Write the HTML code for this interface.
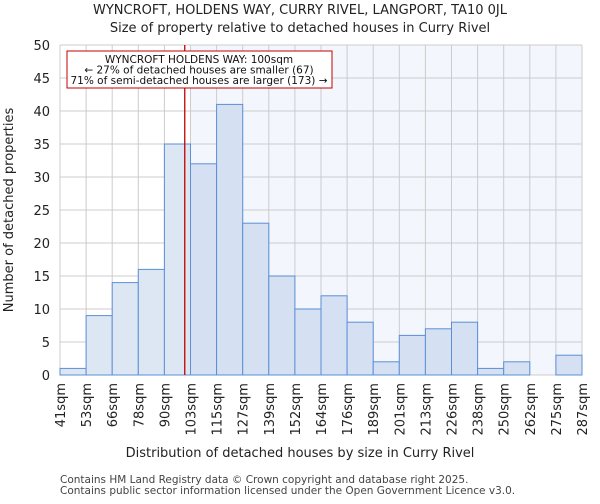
<!DOCTYPE html>
<html><head><meta charset="utf-8"><style>
body{margin:0;background:#fff;font-family:"DejaVu Sans","Liberation Sans",sans-serif}
</style></head><body>
<svg id="c" width="600" height="500" xmlns="http://www.w3.org/2000/svg" font-family="DejaVu Sans, Liberation Sans, sans-serif"></svg>
<script>
const edges=["41sqm","53sqm","66sqm","78sqm","90sqm","103sqm","115sqm","127sqm","139sqm","152sqm","164sqm","176sqm","189sqm","201sqm","213sqm","226sqm","238sqm","250sqm","262sqm","275sqm","287sqm"];
const counts=[1,9,14,16,35,32,41,23,15,10,12,8,2,6,7,8,1,2,0,3];
const yTicks=[0,5,10,15,20,25,30,35,40,45,50];
const markerPos=4.78; // bin index position of 100sqm
const svg=document.getElementById('c');const NS='http://www.w3.org/2000/svg';
const L=60,R=582,T=45,B=375,yMax=50;
const n=counts.length,bw=(R-L)/n;
const xs=i=>L+i*bw, ys=v=>B-(v/yMax)*(B-T);
function el(t,a,p){const e=document.createElementNS(NS,t);for(const k in a)e.setAttribute(k,a[k]);(p||svg).appendChild(e);return e;}
let e;
e=el('rect',{x:L,y:T,width:R-L,height:B-T,fill:'#fff'});


const hi=Math.ceil(markerPos);
e=el('rect',{x:xs(hi),y:T,width:R-xs(hi),height:B-T,fill:'#f3f6fc'});


yTicks.forEach(v=>{
 e=el('line',{x1:L,x2:R,y1:ys(v),y2:ys(v),stroke:'#cccccc','stroke-width':1});
 
 
 e=el('text',{x:L-10,y:ys(v)+5,'text-anchor':'end','font-size':13,fill:'#222'});e.textContent=v;
 
 
});
edges.forEach((lab,i)=>{
 e=el('line',{x1:xs(i),x2:xs(i),y1:T,y2:B,stroke:'#cccccc','stroke-width':1});
 
 
 const x=xs(i)+5,y=B+8;
 e=el('text',{x:x,y:y,'text-anchor':'end','font-size':13,fill:'#222',transform:`rotate(-90 ${x} ${y})`});e.textContent=lab;
 
 
});
counts.forEach((v,i)=>{
 if(v<=0)return;
 e=el('rect',{x:xs(i),y:ys(v),width:bw,height:B-ys(v),fill:i<hi?'#dde7f4':'#d5e1f3',stroke:'#5b8fd6','stroke-width':1});
 
 
});
const mx=L+markerPos*bw;
e=el('line',{x1:mx,x2:mx,y1:T,y2:B,stroke:'#c00000','stroke-width':1.3});


e=el('rect',{x:67,y:51,width:265,height:37,fill:'#fff',stroke:'#c00000','stroke-width':1});


["WYNCROFT HOLDENS WAY: 100sqm","← 27% of detached houses are smaller (67)","71% of semi-detached houses are larger (173) →"].forEach((t,i)=>{
 e=el('text',{x:199,y:63+i*10.5,'text-anchor':'middle','font-size':10.5,fill:'#111'});e.textContent=t;
 
 
});
e=el('text',{x:300,y:14,'text-anchor':'middle','font-size':13,fill:'#222'});e.textContent="WYNCROFT, HOLDENS WAY, CURRY RIVEL, LANGPORT, TA10 0JL";


e=el('text',{x:300,y:32,'text-anchor':'middle','font-size':13,fill:'#222'});e.textContent="Size of property relative to detached houses in Curry Rivel";


e=el('text',{x:300,y:457,'text-anchor':'middle','font-size':13,fill:'#222'});e.textContent="Distribution of detached houses by size in Curry Rivel";


e=el('text',{x:13,y:210,'text-anchor':'middle','font-size':13,fill:'#222',transform:'rotate(-90 13 210)'});e.textContent="Number of detached properties";


e=el('text',{x:60,y:483,'font-size':10.5,fill:'#444'});e.textContent="Contains HM Land Registry data © Crown copyright and database right 2025.";


e=el('text',{x:60,y:494,'font-size':10.5,fill:'#444'});e.textContent="Contains public sector information licensed under the Open Government Licence v3.0.";


</script>
</body></html>
